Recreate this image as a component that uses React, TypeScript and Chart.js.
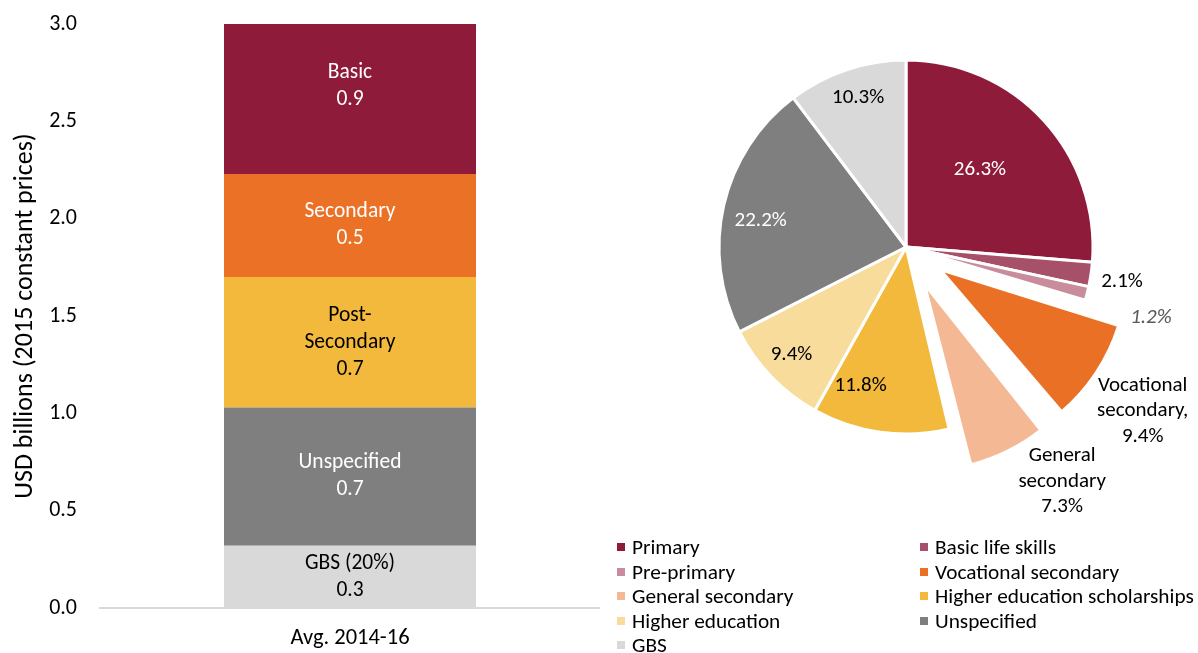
import React, { useEffect, useRef } from 'react';
import { Chart, registerables } from 'chart.js';

Chart.register(...registerables);

const FONT = 'Carlito, Calibri, Lato, sans-serif';

// ---------- Stacked bar (left) ----------
const barCategories = ['Avg. 2014-16'];
const barSeriesNames = ['GBS (20%)', 'Unspecified', 'Post-Secondary', 'Secondary', 'Basic'];
const barSeriesLabelLines = [['GBS (20%)'], ['Unspecified'], ['Post-', 'Secondary'], ['Secondary'], ['Basic']];
const barValues = [0.32, 0.71, 0.67, 0.53, 0.9];
const yAxisMin = 0;
const yAxisMax = 3;
const yAxisStep = 0.5;
const yAxisTitle = 'USD billions (2015 constant prices)';

const barColors = ['#D9D9D9', '#7F7F7F', '#F2B93C', '#EA7125', '#8E1B3A'];
const barLabelColors = ['#000000', '#FFFFFF', '#000000', '#FFFFFF', '#FFFFFF'];

// ---------- Pie (right) ----------
const pieCategories = [
  'Primary',
  'Basic life skills',
  'Pre-primary',
  'Vocational secondary',
  'General secondary',
  'Higher education scholarships',
  'Higher education',
  'Unspecified',
  'GBS',
];
const pieValues = [26.3, 2.1, 1.2, 9.4, 7.3, 11.8, 9.4, 22.2, 10.3];
const pieLabelPrefix = [[], [], [], ['Vocational', 'secondary,'], ['General', 'secondary'], [], [], [], []];

const pieColors = ['#8E1B3A', '#A6506A', '#C88C9C', '#E97025', '#F4B894', '#F2B93C', '#F7DC9C', '#7F7F7F', '#D9D9D9'];
const pieOffsets = [0, 0, 0, 164, 164, 0, 0, 0, 0];
const pieLabelRadius = [0.57, 1.17, 1.364, 1.32, 1.29, 0.78, 0.84, 0.79, 0.84];
const pieLabelAngleAdj = [-3.4, 0.7, 1.8, 1.4, -8.4, 10.2, 0.7, -2.6, 0.8];
const pieLabelColors = ['#FFFFFF', '#000000', '#595959', '#000000', '#000000', '#000000', '#000000', '#FFFFFF', '#000000'];
const pieLabelItalic = [false, false, true, false, false, false, false, false, false];

function BarChart() {
  const ref = useRef<HTMLCanvasElement>(null);
  useEffect(() => {
    const labelPlugin = {
      id: 'barLabels',
      afterDatasetsDraw(chart: any) {
        const ctx = chart.ctx;
        ctx.save();
        ctx.font = `21.5px ${FONT}`;
        ctx.textAlign = 'center';
        ctx.textBaseline = 'middle';
        chart.data.datasets.forEach((ds: any, i: number) => {
          const meta = chart.getDatasetMeta(i);
          meta.data.forEach((bar: any, j: number) => {
            const { x, y, base } = bar.getProps(['x', 'y', 'base'], true);
            const cy = (y + base) / 2;
            const lines = [...barSeriesLabelLines[i], Number(ds.data[j]).toFixed(1)];
            ctx.fillStyle = barLabelColors[i];
            const lh = 27;
            lines.forEach((t: string, k: number) => {
              ctx.fillText(t, x, cy + (k - (lines.length - 1) / 2) * lh);
            });
          });
        });
        ctx.restore();
      },
    };
    const chart = new Chart(ref.current as HTMLCanvasElement, {
      type: 'bar',
      data: {
        labels: barCategories,
        datasets: barSeriesNames.map((n, i) => ({
          label: n,
          data: [barValues[i]],
          backgroundColor: barColors[i],
          borderWidth: 0,
          categoryPercentage: 0.504,
          barPercentage: 1,
          clip: 0,
        })),
      },
      options: {
        animation: false,
        responsive: false,
        maintainAspectRatio: false,
        layout: { padding: { top: 24, right: 0, left: 0, bottom: 0 } },
        plugins: { legend: { display: false }, tooltip: { enabled: false } },
        scales: {
          x: {
            stacked: true,
            grid: { display: false, drawTicks: false },
            border: { display: true, color: '#D9D9D9', width: 2 },
            ticks: { color: '#000000', font: { family: FONT, size: 22.5 }, padding: 17 },
            afterFit: (s: any) => {
              s.height = 45;
            },
          },
          y: {
            stacked: true,
            min: yAxisMin,
            max: yAxisMax,
            ticks: {
              stepSize: yAxisStep,
              callback: (v: any) => Number(v).toFixed(1),
              color: '#000000',
              font: { family: FONT, size: 22 },
              padding: 0,
            },
            grid: { display: false, drawTicks: true, tickLength: 23 },
            border: { display: false },
            title: {
              display: true,
              text: yAxisTitle,
              color: '#000000',
              font: { family: FONT, size: 26 },
              padding: { top: 10, bottom: 0 },
            },
            afterFit: (s: any) => {
              s.width = 100;
            },
          },
        },
      } as any,
      plugins: [labelPlugin],
    });
    return () => chart.destroy();
  }, []);
  return (
    <canvas
      ref={ref}
      width={600}
      height={653}
      style={{ position: 'fixed', left: 0, top: 0, width: 600, height: 653 }}
    />
  );
}

function PieChart() {
  const ref = useRef<HTMLCanvasElement>(null);
  useEffect(() => {
    const radiusFix = {
      id: 'radiusFix',
      beforeDatasetsDraw(chart: any) {
        const meta = chart.getDatasetMeta(0);
        const ctrl: any = meta.controller;
        meta.data.forEach((arc: any) => {
          const off = (arc.options.offset || 0) / 4;
          const circ = arc.endAngle - arc.startAngle;
          const fix = 1 - Math.sin(Math.min(Math.PI, circ));
          arc.outerRadius = ctrl.outerRadius - off * fix;
        });
      },
    };
    const labelPlugin = {
      id: 'pieLabels',
      afterDatasetsDraw(chart: any) {
        const ctx = chart.ctx;
        const meta = chart.getDatasetMeta(0);
        const R = (meta.controller as any).outerRadius;
        ctx.save();
        ctx.textAlign = 'center';
        ctx.textBaseline = 'middle';
        meta.data.forEach((arc: any, i: number) => {
          const mid = (arc.startAngle + arc.endAngle) / 2;
          const off = (arc.options.offset || 0) / 4;
          const cx = arc.x + Math.cos(mid) * off;
          const cy = arc.y + Math.sin(mid) * off;
          const a = mid + (pieLabelAngleAdj[i] * Math.PI) / 180;
          const r = pieLabelRadius[i] * R;
          const lx = cx + Math.cos(a) * r;
          const ly = cy + Math.sin(a) * r;
          const lines = [...pieLabelPrefix[i], pieValues[i].toFixed(1) + '%'];
          ctx.font = `${pieLabelItalic[i] ? 'italic ' : ''}21px ${FONT}`;
          ctx.fillStyle = pieLabelColors[i];
          const lh = 25.5;
          lines.forEach((t: string, k: number) => {
            ctx.fillText(t, lx, ly + (k - (lines.length - 1) / 2) * lh);
          });
        });
        ctx.restore();
      },
    };
    const chart = new Chart(ref.current as HTMLCanvasElement, {
      type: 'pie',
      data: {
        labels: pieCategories,
        datasets: [
          {
            data: pieValues,
            backgroundColor: pieColors,
            borderColor: '#FFFFFF',
            borderWidth: 3,
            offset: pieOffsets,
            radius: 187,
          } as any,
        ],
      },
      options: {
        animation: false,
        responsive: false,
        maintainAspectRatio: false,
        layout: { padding: { left: 14, right: 0, top: 0, bottom: 26 } },
        plugins: { legend: { display: false }, tooltip: { enabled: false } },
      } as any,
      plugins: [radiusFix, labelPlugin],
    });
    return () => chart.destroy();
  }, []);
  return (
    <canvas
      ref={ref}
      width={598}
      height={520}
      style={{ position: 'fixed', left: 600, top: 0, width: 598, height: 520 }}
    />
  );
}

function Legend() {
  return (
    <div style={{ position: 'fixed', left: 0, top: 0 }}>
      {pieCategories.map((name, i) => {
        const col = i % 2;
        const row = Math.floor(i / 2);
        return (
          <div
            key={name}
            style={{
              position: 'absolute',
              left: col ? 920 : 617,
              top: 547 + row * 24.6 - 12,
              height: 24,
              display: 'flex',
              alignItems: 'center',
              font: `21.3px ${FONT}`,
              whiteSpace: 'nowrap',
              color: '#000000',
            }}
          >
            <span
              style={{
                width: 8,
                height: 8,
                background: pieColors[i],
                marginRight: 7,
                display: 'inline-block',
                flex: '0 0 auto',
              }}
            />
            {name}
          </div>
        );
      })}
    </div>
  );
}

export default function App() {
  return (
    <>
      <BarChart />
      <PieChart />
      <Legend />
    </>
  );
}
